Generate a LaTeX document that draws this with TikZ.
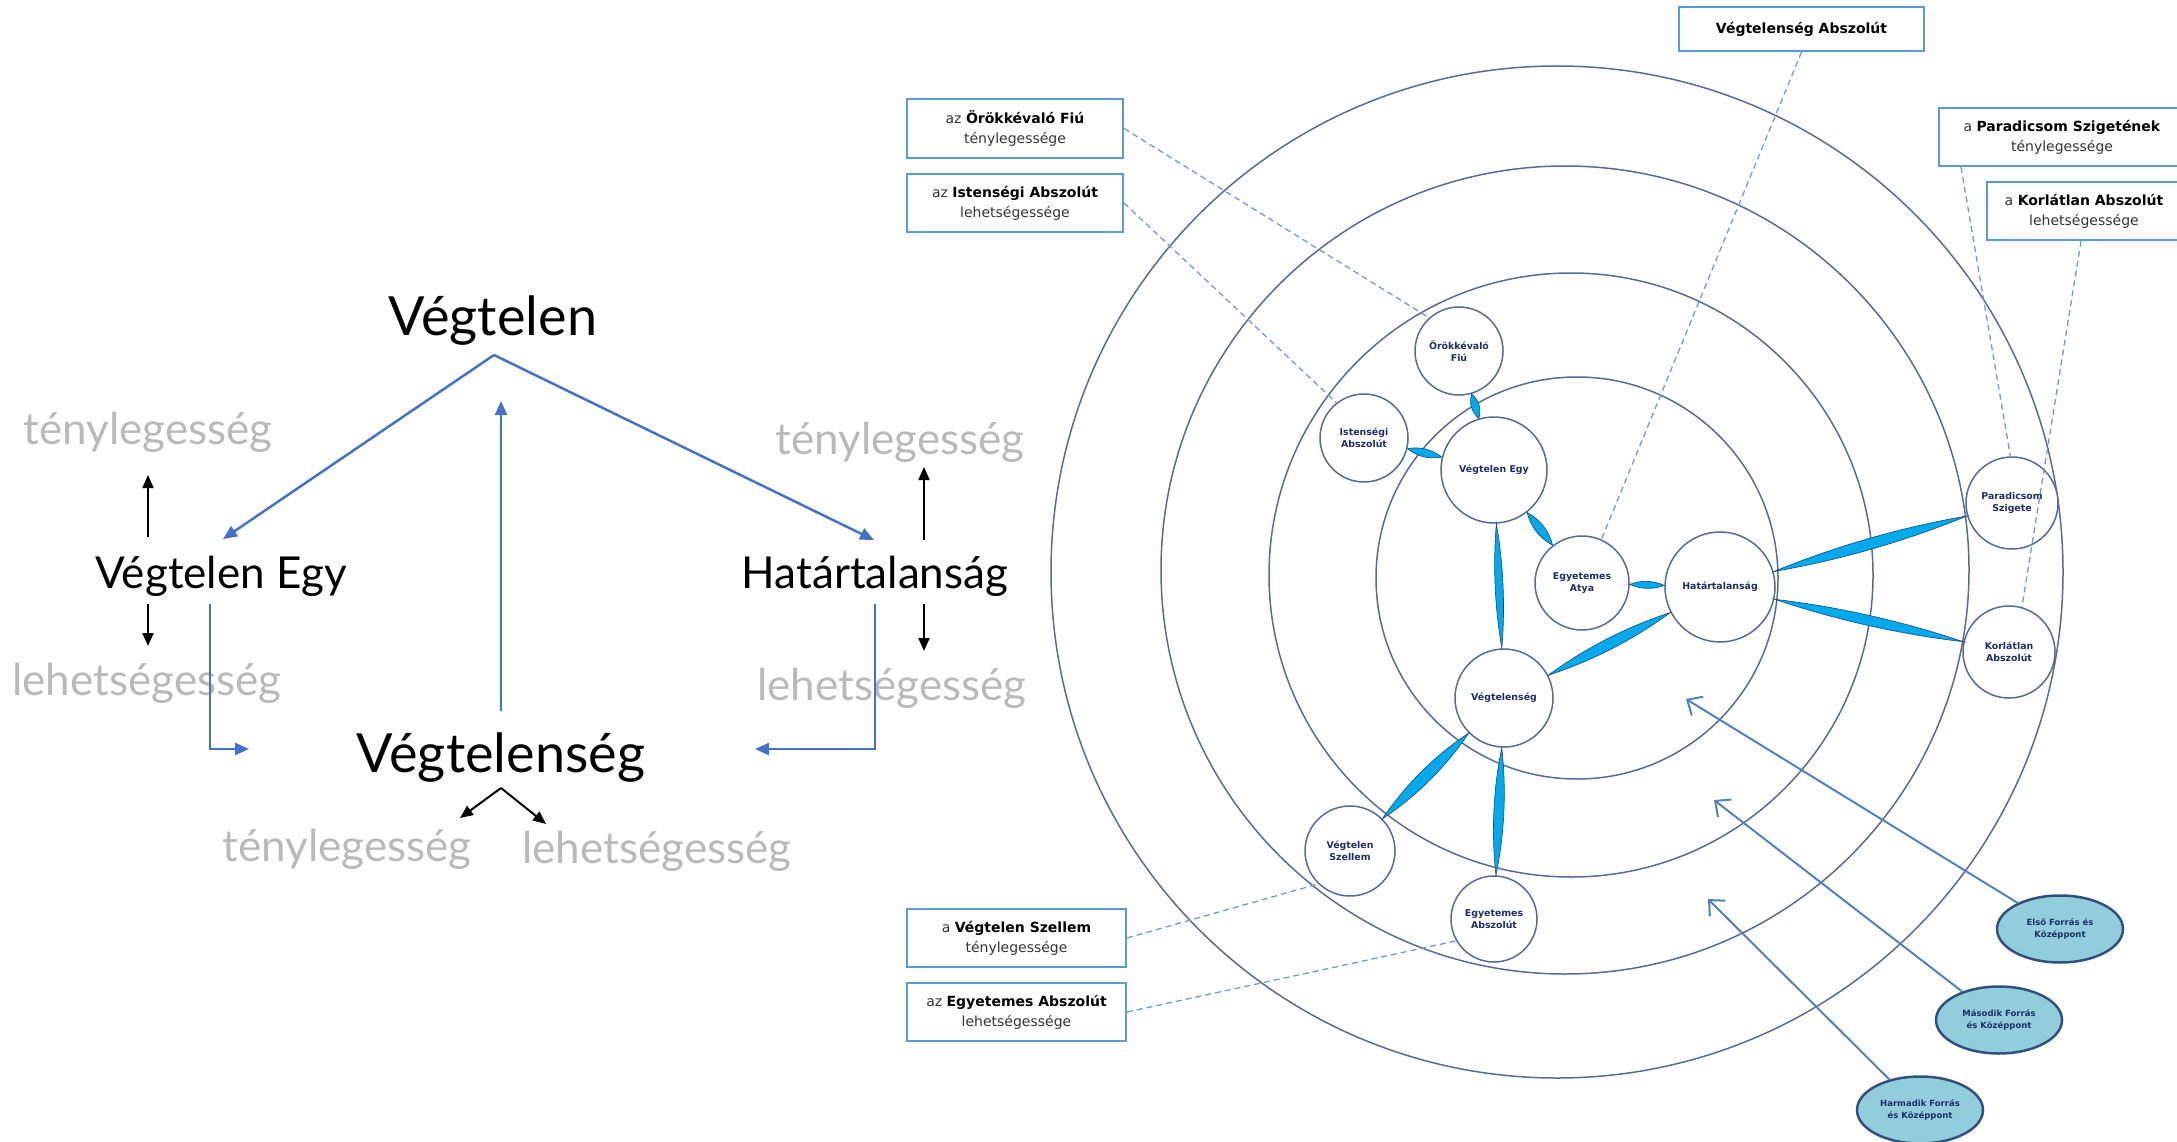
\documentclass[tikz,border=0pt]{standalone}
\usepackage{fontspec}
\setmainfont{DejaVu Sans}
\newfontfamily\slidefont{Lato}
\usepackage{tikz}
\usetikzlibrary{shapes,arrows,arrows.meta,calc}
\definecolor{slideblue}{RGB}{68,114,196}
\definecolor{ringcol}{RGB}{84,108,150}
\definecolor{navytext}{RGB}{31,45,105}
\definecolor{boxblue}{RGB}{91,155,213}
\definecolor{leadblue}{RGB}{110,155,210}
\definecolor{lenscol}{RGB}{0,170,235}
\definecolor{lensedge}{RGB}{30,70,130}
\definecolor{srcfill}{RGB}{146,205,220}
\definecolor{srcedge}{RGB}{50,80,125}
\definecolor{feedblue}{RGB}{80,130,190}
\definecolor{paletext}{RGB}{185,185,185}
\tikzstyle{big}=[font=\slidefont\fontsize{54}{60}\selectfont,inner sep=0,anchor=base]
\tikzstyle{mid}=[font=\slidefont\fontsize{44}{50}\selectfont,inner sep=0,anchor=base]
\tikzstyle{pale}=[mid,text=paletext]
\tikzstyle{bluearr}=[slideblue,line width=2.5pt,-{Triangle[length=14pt,width=12pt]}]
\tikzstyle{blackarr}=[black,line width=2pt,-{Triangle[length=13pt,width=11pt]}]
\tikzstyle{ring}=[ringcol,line width=1.5pt]
\tikzstyle{orb}=[circle,draw=ringcol,line width=1.5pt,fill=white,inner sep=0,align=center,text=navytext,font=\bfseries\fontsize{9.4}{12.5}\selectfont]
\tikzstyle{src}=[ellipse,draw=srcedge,line width=2.5pt,fill=srcfill,minimum width=126pt,minimum height=67pt,inner sep=0,align=center,text=navytext,font=\bfseries\fontsize{8.5}{12}\selectfont]
\tikzstyle{lbl}=[draw=boxblue,line width=2pt,fill=white,inner sep=0,align=center,text=black!80,font=\fontsize{14}{20}\selectfont]
\tikzstyle{lead}=[leadblue,line width=1.3pt,dash pattern=on 6pt off 4pt]
\tikzstyle{lensstyle}=[fill=lenscol,draw=lensedge,line width=0.6pt]
\tikzstyle{feed}=[feedblue,line width=2pt,-{Straight Barb[length=12pt,width=22pt]}]
% lens between two round nodes: from, to, bulge
\newcommand{\lensfill}[3]{%
\path (#1) -- coordinate[pos=0] (l1) coordinate[pos=1] (l2) (#2);
\filldraw[lensstyle] (l1) .. controls ($(l1)!0.33!(l2)!#3!90:(l2)$) and ($(l1)!0.67!(l2)!#3!90:(l2)$) .. (l2)
 .. controls ($(l1)!0.67!(l2)!#3!-90:(l2)$) and ($(l1)!0.33!(l2)!#3!-90:(l2)$) .. (l1) -- cycle;}
\newcommand{\bb}[1]{\textcolor{black}{\textbf{#1}}}
\begin{document}
\begin{tikzpicture}[x=1pt,y=-1pt]
\useasboundingbox (0,0) rectangle (2177,1142);
% left scheme
\node[big] (vegtelen) at (493,335) {Végtelen};
\node[mid] (egy) at (221,588) {Végtelen Egy};
\node[mid] (hatar) at (875,588) {Határtalanság};
\node[big] (vegsg) at (501,772) {Végtelenség};
\node[pale] (t1) at (148,444) {ténylegesség};
\node[pale] (l1) at (147,695) {lehetségesség};
\node[pale] (t2) at (900,454) {ténylegesség};
\node[pale] (l2) at (892,700) {lehetségesség};
\node[pale] (t3) at (347,861) {ténylegesség};
\node[pale] (l3) at (657,863) {lehetségesség};
\coordinate (apex) at (494,355);
\coordinate (egyin) at (223,539);
\coordinate (hatarin) at (874,540);
\coordinate (vup) at (501,711);
\coordinate (vtop) at (501,401);
\coordinate (bapex) at (501,788);
\draw[bluearr] (apex) -- (egyin);
\draw[bluearr] (apex) -- (hatarin);
\draw[bluearr] (vup) -- (vtop);
\draw[bluearr] (210,604) |- (249,749);
\draw[bluearr] (875,604) |- (755,749);
\draw[blackarr] (148,537) -- (148,475);
\draw[blackarr] (148,604) -- (148,646);
\draw[blackarr] (924,540) -- (924,467);
\draw[blackarr] (924,604) -- (924,651);
\draw[blackarr] (bapex) -- (460,818);
\draw[blackarr] (bapex) -- (546,824);
% rings
\draw[ring] (1557,572) circle (506pt);
\draw[ring] (1565,570) circle (404pt);
\draw[ring] (1571,575) circle (302pt);
\draw[ring] (1577,578) circle (201pt);
% persons
\node[orb,minimum size=88pt] (fiu) at (1459,351) {Örökkévaló\\Fiú};
\node[orb,minimum size=88pt] (isten) at (1364,438) {Istenségi\\Abszolút};
\node[orb,minimum size=106pt] (egy2) at (1494,470) {Végtelen Egy};
\node[orb,minimum size=94pt] (atya) at (1582,583) {Egyetemes\\Atya};
\node[orb,minimum size=110pt] (hatar2) at (1720,587) {Határtalanság};
\node[orb,minimum size=98pt] (vseg) at (1504,698) {Végtelenség};
\node[orb,minimum size=92pt] (parad) at (2012,503) {Paradicsom\\Szigete};
\node[orb,minimum size=92pt] (korl) at (2009,652) {Korlátlan\\Abszolút};
\node[orb,minimum size=90pt] (szell) at (1350,851) {Végtelen\\Szellem};
\node[orb,minimum size=86pt] (egyabsz) at (1494,919) {Egyetemes\\Abszolút};
% labels
\node[lbl,minimum width=216pt,minimum height=59pt] (bfiu) at (1015,128.5) {az \bb{Örökkévaló Fiú}\\ténylegessége};
\node[lbl,minimum width=216pt,minimum height=58pt] (bisten) at (1015,203) {az \bb{Istenségi Abszolút}\\lehetségessége};
\node[lbl,minimum width=245pt,minimum height=44pt] (babsz) at (1801.5,29) {\bb{Végtelenség Abszolút}};
\node[lbl,minimum width=246pt,minimum height=58pt] (bparad) at (2062,137) {a \bb{Paradicsom Szigetének}\\ténylegessége};
\node[lbl,minimum width=194pt,minimum height=58pt] (bkorl) at (2084,211) {a \bb{Korlátlan Abszolút}\\lehetségessége};
\node[lbl,minimum width=219pt,minimum height=58pt] (bszell) at (1016.5,938) {a \bb{Végtelen Szellem}\\ténylegessége};
\node[lbl,minimum width=219pt,minimum height=58pt] (begyabsz) at (1016.5,1012) {az \bb{Egyetemes Abszolút}\\lehetségessége};
% sources
\node[src] (elso) at (2060,929) {Első Forrás és\\Középpont};
\node[src] (masodik) at (1999,1020) {Második Forrás\\és Középpont};
\node[src] (harmadik) at (1920,1110) {Harmadik Forrás\\és Középpont};
% leaders
\draw[lead] (bfiu.east) -- (fiu.132);
\draw[lead] (bisten.east) -- (isten.128);
\draw[lead] (babsz.south) -- (atya.66);
\draw[lead] ([xshift=23pt]bparad.south west) -- (parad.92);
\draw[lead] ([xshift=95pt]bkorl.south west) -- (korl.74);
\draw[lead] (bszell.east) -- (szell.226);
\draw[lead] (begyabsz.east) -- (egyabsz.210);
% lenses
\lensfill{fiu}{egy2}{5.3pt}
\lensfill{isten}{egy2}{5.3pt}
\lensfill{egy2}{atya}{6pt}
\lensfill{egy2}{vseg}{5.3pt}
\lensfill{atya}{hatar2}{4.7pt}
\lensfill{hatar2}{vseg}{7.3pt}
\lensfill{hatar2}{parad}{7.3pt}
\lensfill{hatar2}{korl}{6.7pt}
\lensfill{vseg}{szell}{8pt}
\lensfill{vseg}{egyabsz}{6.7pt}
% sources point into the rings
\coordinate (in1) at (1686,699);
\coordinate (in2) at (1714,800);
\coordinate (in3) at (1708,899);
\draw[feed] (elso) -- (in1);
\draw[feed] (masodik) -- (in2);
\draw[feed] (harmadik) -- (in3);
\end{tikzpicture}
\end{document}
